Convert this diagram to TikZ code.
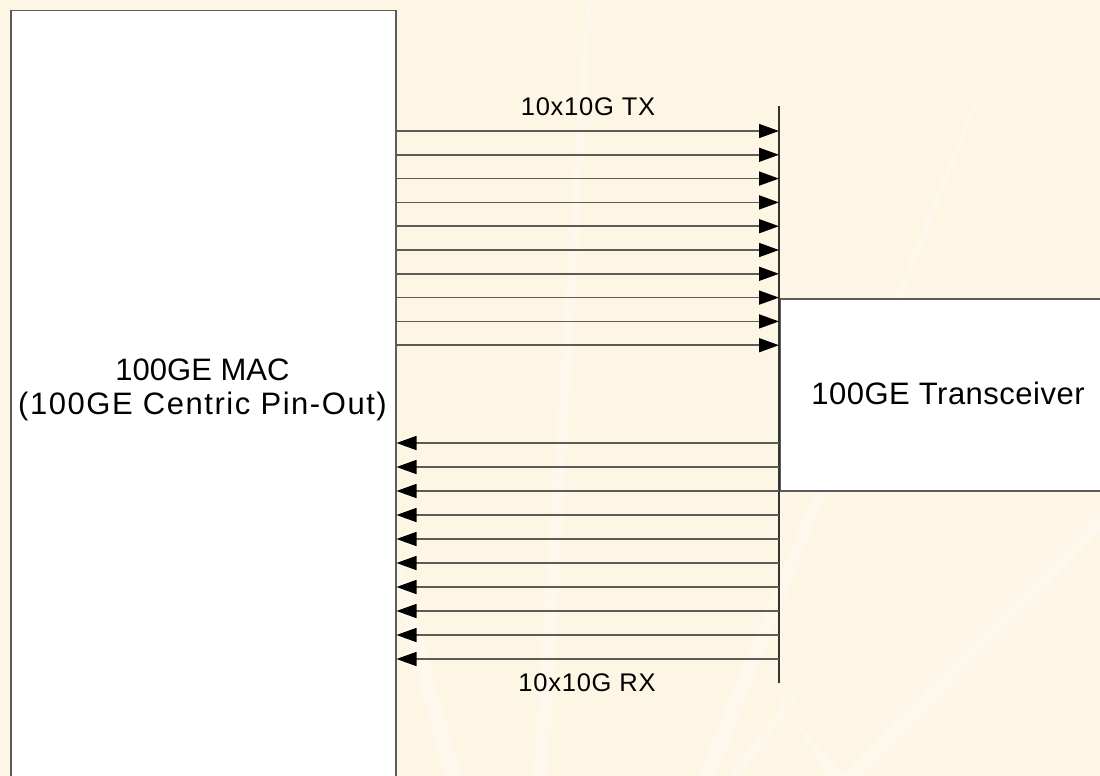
\documentclass[tikz,border=0pt]{standalone}
\usepackage{fontspec}
\setmainfont{Liberation Sans}
\usetikzlibrary{arrows.meta,positioning}
\definecolor{PaperClr}{rgb}{0.996,0.965,0.894}
\definecolor{RayClr}{rgb}{0.998,0.974,0.925}
\definecolor{EdgeClr}{rgb}{0.36,0.36,0.36}
\definecolor{WireClr}{rgb}{0.36,0.36,0.34}
\definecolor{BusClr}{rgb}{0.2,0.2,0.2}

\tikzset{
  unitbox/.style={draw=EdgeClr,line width=1.5pt,fill=white,inner sep=0pt,anchor=north west},
  boxtext/.style={font=\fontsize{31}{33.3}\selectfont,align=center,inner sep=0pt},
  buslabel/.style={font=\fontsize{25.5}{28}\selectfont\addfontfeature{LetterSpace=3},inner sep=0pt,anchor=base},
  wire/.style={draw=WireClr,line width=1.6pt,-{Triangle[length=20pt,width=14pt,color=black]}},
  busline/.style={draw=BusClr,line width=1.4pt},
  ray/.style={fill=RayClr}
}

\begin{document}
\begin{tikzpicture}[x=1pt,y=-1pt]
\fill[PaperClr] (0,0) rectangle (1100,776);
\clip (0,0) rectangle (1100,776);

% faint rays of the backdrop
\fill[ray] (586,0) -- (592,0) -- (548,776) -- (533,776) -- cycle;
\fill[ray] (388,560) -- (400,560) -- (462,776) -- (444,776) -- cycle;
\fill[ray] (975,100) -- (979,100) -- (716,776) -- (698,776) -- cycle;
\fill[ray] (1100,512) -- (1100,532) -- (862,776) -- (840,776) -- cycle;
\fill[ray] (779,692) -- (779,702) -- (846,776) -- (826,776) -- cycle;
\fill[ray] (800,683) -- (808,683) -- (740,776) -- (728,776) -- cycle;

% the two units
\node[unitbox,minimum width=385pt,minimum height=800pt] (mac) at (10,10) {};
\node[unitbox,minimum width=345pt,minimum height=192pt] (trx) at (779,298) {};

\node[boxtext] (macname) at (202.5,390)
  {100GE MAC\\\addfontfeature{LetterSpace=5}(100GE Centric Pin-Out)};
\node[boxtext,anchor=base] (trxname) at (948,404)
  {\addfontfeature{LetterSpace=1.6}100GE Transceiver};

% lanes
\coordinate (bustop) at (779,106);
\coordinate (busbot) at (779,683);
\draw[busline] (bustop) -- (busbot);

\foreach \i in {0,...,9}{
  \coordinate (tx\i) at (779,{131+23.8*\i});
  \coordinate (rx\i) at (779,{443+24*\i});
  \draw[wire] (tx\i -| mac.east) -- (tx\i);
  \draw[wire] (rx\i) -- (rx\i -| mac.east);
}

\node[buslabel] (txlabel) at (588,115) {10x10G TX};
\node[buslabel] (rxlabel) at (587,691) {10x10G RX};

\end{tikzpicture}
\end{document}
